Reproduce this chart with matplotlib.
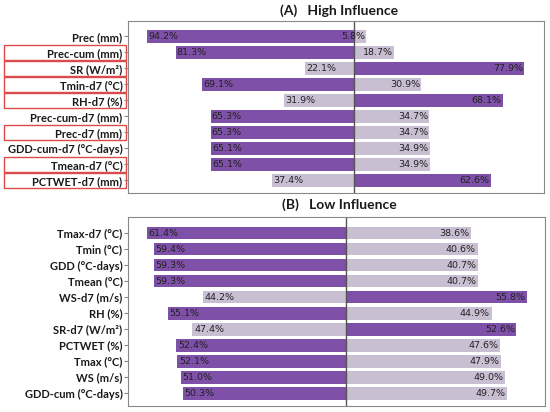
import matplotlib.pyplot as plt
from matplotlib.patches import Rectangle
from matplotlib.transforms import blended_transform_factory

plt.rcParams['font.family'] = ['Lato', 'DejaVu Sans']

# (A) High Influence
high_labels = ["Prec (mm)", "Prec-cum (mm)", "SR (W/m²)", "Tmin-d7 (°C)", "RH-d7 (%)",
               "Prec-cum-d7 (mm)", "Prec-d7 (mm)", "GDD-cum-d7 (°C-days)", "Tmean-d7 (°C)",
               "PCTWET-d7 (mm)"]
high_left = [94.2, 81.3, 22.1, 69.1, 31.9, 65.3, 65.3, 65.1, 65.1, 37.4]
high_right = [5.8, 18.7, 77.9, 30.9, 68.1, 34.7, 34.7, 34.9, 34.9, 62.6]
high_boxed = ["Prec-cum (mm)", "SR (W/m²)", "Tmin-d7 (°C)", "RH-d7 (%)", "Prec-d7 (mm)",
              "Tmean-d7 (°C)", "PCTWET-d7 (mm)"]

# (B) Low Influence
low_labels = ["Tmax-d7 (°C)", "Tmin (°C)", "GDD (°C-days)", "Tmean (°C)", "WS-d7 (m/s)",
              "RH (%)", "SR-d7 (W/m²)", "PCTWET (%)", "Tmax (°C)", "WS (m/s)",
              "GDD-cum (°C-days)"]
low_left = [61.4, 59.4, 59.3, 59.3, 44.2, 55.1, 47.4, 52.4, 52.1, 51.0, 50.3]
low_right = [38.6, 40.6, 40.7, 40.7, 55.8, 44.9, 52.6, 47.6, 47.9, 49.0, 49.7]

DARK = "#7e50a7"
LIGHT = "#c9bfd3"


def draw_panel(ax, labels, left, right, xlim, ylim):
    y = list(range(len(labels)))
    lc = [DARK if l >= r else LIGHT for l, r in zip(left, right)]
    rc = [LIGHT if l >= r else DARK for l, r in zip(left, right)]
    ax.barh(y, [-v for v in left], height=0.8, color=lc)
    ax.barh(y, right, height=0.8, color=rc)
    for i in y:
        ax.text(-left[i] + 0.5, i, f"{left[i]:.1f}%", ha="left", va="center",
                fontsize=6.8, family="DejaVu Sans", color="#222222")
        ax.text(right[i] - 0.5, i, f"{right[i]:.1f}%", ha="right", va="center",
                fontsize=6.8, family="DejaVu Sans", color="#222222")
    ax.axvline(0, color="#555555", lw=1)
    ax.set_xlim(*xlim)
    ax.set_ylim(*ylim)
    ax.set_yticks(y)
    ax.set_yticklabels(labels, fontsize=8, fontweight="bold", color="#1a1a1a")
    ax.set_xticks([])
    ax.tick_params(axis="y", length=3, color="#888888", pad=1)
    for s in ax.spines.values():
        s.set_color("#888888")


fig = plt.figure(figsize=(5.5, 4.12), dpi=100)
axA = fig.add_axes([128 / 550, 1 - 193 / 412, 416 / 550, 172 / 412])
axB = fig.add_axes([128 / 550, 1 - 406 / 412, 417 / 550, 189 / 412])

draw_panel(axA, high_labels, high_left, high_right, (-103, 87), (9.8, -0.95))
draw_panel(axB, low_labels, low_left, low_right, (-67.3, 61.4), (10.8, -1.0))

# red boxes round the selected labels of panel A
trans = blended_transform_factory(fig.transFigure, axA.transData)
for name in high_boxed:
    i = high_labels.index(name)
    axA.add_patch(Rectangle((4 / 550, i - 0.47), 122 / 550, 0.94, transform=trans,
                            fill=False, edgecolor="#dc4b4b", lw=1, clip_on=False))

fig.text(0.617, 1 - 11 / 412, "(A)   High Influence", ha="center", va="center",
         fontsize=10, fontweight="bold", color="#1a1a1a")
fig.text(0.617, 1 - 205 / 412, "(B)   Low Influence", ha="center", va="center",
         fontsize=10, fontweight="bold", color="#1a1a1a")

fig.savefig("out.png", dpi=100)
